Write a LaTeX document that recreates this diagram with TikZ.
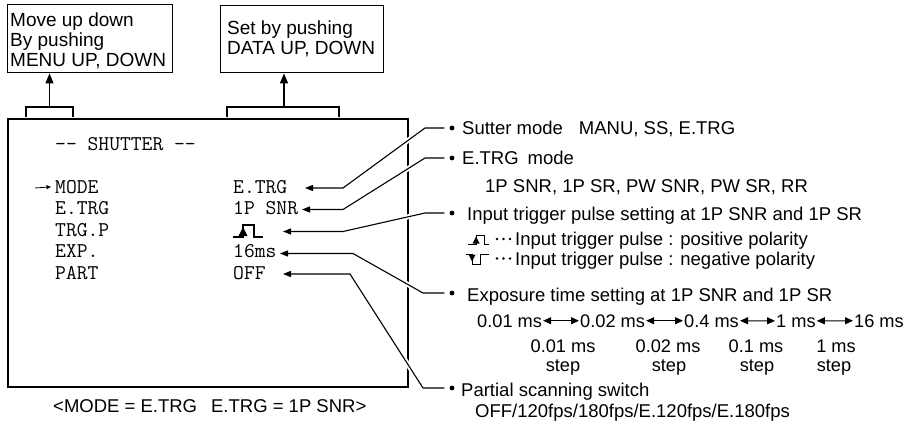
\documentclass[tikz,border=0pt]{standalone}
\usepackage{fontspec}
\setmainfont{Liberation Sans}
\usetikzlibrary{arrows.meta,calc}
\begin{document}
\begin{tikzpicture}[x=1pt,y=-1pt,
  txt/.style={font=\fontsize{18.5}{20}\selectfont, inner sep=0pt, anchor=base west},
  stxt/.style={font=\fontsize{18.2}{20}\selectfont, inner sep=0pt, anchor=base west},
  btxt/.style={font=\fontsize{19}{20}\selectfont, inner sep=0pt, anchor=base west},
  ctxt/.style={font=\fontsize{18.2}{20}\selectfont, inner sep=0pt, anchor=base},
  mono/.style={font=\ttfamily\fontsize{21}{21.5}\selectfont, inner sep=0pt, anchor=base west},
  upbox/.style={draw, line width=1.4pt, anchor=north west, inner sep=0pt},
  thin/.style={line width=1.2pt},
  uparr/.style={line width=1.2pt, -{Triangle[length=10pt,width=8pt]}},
  conn/.style={line width=1.1pt, -{Triangle[length=8pt,width=6pt]}},
  dbl/.style={line width=1pt, {Triangle[length=8pt,width=7pt]}-{Triangle[length=8pt,width=7pt]}},
  bul/.style={circle, fill, inner sep=0pt, minimum size=4.8pt},
  dot/.style={circle, fill, inner sep=0pt, minimum size=2.6pt},
  knock/.style={white, line width=5pt},
]
\useasboundingbox (0,0) rectangle (909,423);

% ---- top boxes ----
\node[upbox, minimum width=165pt, minimum height=68pt] (boxA) at (7,4) {};
\node[btxt] (a1) at (10,26) {Move up down};
\node[btxt] (a2) at (10,46) {By pushing};
\node[btxt] (a3) at (10,66) {MENU UP, DOWN};

\node[upbox, minimum width=163pt, minimum height=67pt] (boxB) at (220,5) {};
\node[btxt] (c1) at (227,34) {Set by pushing};
\node[btxt] (c2) at (227,54) {DATA UP, DOWN};

% ---- screen ----
\node[draw, line width=2pt, anchor=north west, inner sep=0pt,
      minimum width=400pt, minimum height=268pt] (scr) at (7,118) {};

% brackets
\coordinate (brA) at (49.5,107);
\coordinate (brB) at (284,107);
\draw[thin] (26,117) -- (26,107) -- (73,107) -- (73,117);
\draw[thin] (227,117) -- (227,107) -- (339,107) -- (339,117);
\draw[uparr] (brA) -- (brA |- boxA.south);
\draw[uparr] (brB) -- (brB |- boxB.south);

\node[mono] (hdr) at (55,150.7) {-{}- SHUTTER -{}-};
\node[mono] (m1) at (55,193.3) {MODE};
\node[mono] (m2) at (55,214.8) {E.TRG};
\node[mono] (m3) at (55,236.3) {TRG.P};
\node[mono] (m4) at (55,257.8) {EXP.};
\node[mono] (m5) at (55,279.3) {PART};
\coordinate (ma) at (35,188);
\draw[line width=0.8pt, -{Triangle[length=4.5pt,width=4pt]}] (ma) -- ([xshift=-4pt]m1.west);

\node[mono] (v1) at (233,193.3) {E.TRG};
\node[mono] (v2) at (233,214.8) {1P SNR};
\coordinate (v3) at (233,237);
\draw[line width=1.1pt] (v3) -- (243,237) -- (243,225) -- (254,225) -- (254,237) -- (263,237);
\fill (238.5,236) -- (247.5,236) -- (243,227) -- cycle;
\node[mono] (v4) at (233,257.8) {16ms};
\node[mono] (v5) at (233,279.3) {OFF};

% ---- bullets on the right ----
\node[bul] (b1) at (452,128) {};
\node[bul] (b2) at (452,158) {};
\node[bul] (b3) at (452,213) {};
\node[bul] (b4) at (452,293) {};
\node[bul] (b5) at (452,388) {};

% connector bends and tips
\coordinate (t1) at (305,188);   \coordinate (k1) at (343,188);   \coordinate (j1) at (425,128);
\coordinate (t2) at (302,209.5); \coordinate (k2) at (343,209.5); \coordinate (j2) at (425,158);
\coordinate (t3) at (283,231.5); \coordinate (k3) at (343,231.5); \coordinate (j3) at (425,213);
\coordinate (t4) at (280,253.5); \coordinate (k4) at (353,253.5); \coordinate (j4) at (423,293);
\coordinate (t5) at (283,274);   \coordinate (k5) at (350,274);   \coordinate (j5) at (423,388);

\foreach \i in {1,...,5}{
  \draw[knock] ($(j\i)!0.1!(k\i)$) -- ($(j\i)!0.4!(k\i)$);
  \draw[conn] ([xshift=-5pt]b\i.west) -- (j\i) -- (k\i) -- (t\i);
}

% ---- right texts ----
\node[txt] (s1) at (462,134.6) {Sutter mode\hspace{16pt}MANU, SS, E.TRG};
\node[txt] (s2) at (462,164.6) {E.TRG\hspace{9pt}mode};
\node[txt] (s2b) at (485,192) {1P SNR, 1P SR, PW SNR, PW SR, RR};
\node[txt] (s3) at (467,220) {Input trigger pulse setting at 1P SNR and 1P SR};

% positive pulse legend
\draw[line width=0.9pt] (468,244) -- (476,244) -- (476,235) -- (484,235) -- (484,244) -- (489,244);
\fill (472.5,243.5) -- (479.5,243.5) -- (476,236.5) -- cycle;
\foreach \x in {497,503.5,510} \node[dot] at (\x,239) {};
\node[txt] (p1) at (515,245) {Input trigger pulse : positive polarity};
% negative pulse legend
\draw[line width=0.9pt] (466,254) -- (472,254) -- (472,264) -- (480,264) -- (480,254) -- (489,254);
\fill (468.5,254.5) -- (475.5,254.5) -- (472,261.5) -- cycle;
\foreach \x in {497,503.5,510} \node[dot] at (\x,258.5) {};
\node[txt] (p2) at (515,265) {Input trigger pulse : negative polarity};

\node[txt] (s4) at (467,301.7) {Exposure time setting at 1P SNR and 1P SR};
\node[stxt] (q1) at (477,327) {0.01 ms};
\node[stxt] (q2) at (580,327) {0.02 ms};
\node[stxt] (q3) at (684,327) {0.4 ms};
\node[stxt] (q4) at (776,327) {1 ms};
\node[stxt] (q5) at (854,327) {16 ms};
\draw[dbl] ([xshift=1pt]q1.east) -- ([xshift=-1pt]q2.west);
\draw[dbl] ([xshift=1pt]q2.east) -- ([xshift=-1pt]q3.west);
\draw[dbl] ([xshift=1pt]q3.east) -- ([xshift=-1pt]q4.west);
\draw[dbl] ([xshift=1pt]q4.east) -- ([xshift=-1pt]q5.west);

\node[ctxt] (r1) at (563,352) {0.01 ms};
\node[ctxt] (r1s) at (563,371) {step};
\node[ctxt] (r2) at (668,352) {0.02 ms};
\node[ctxt] (r2s) at (669,371) {step};
\node[ctxt] (r3) at (756,352) {0.1 ms};
\node[ctxt] (r3s) at (757,371) {step};
\node[ctxt] (r4) at (836,352) {1 ms};
\node[ctxt] (r4s) at (834,371) {step};

\node[txt] (s5) at (461,396) {Partial scanning switch};
\node[txt] (s5b) at (475,417) {OFF/120fps/180fps/E.120fps/E.180fps};

% caption
\node[txt] (cap) at (53,412) {<MODE = E.TRG\hspace{14pt}E.TRG = 1P SNR>};
\end{tikzpicture}
\end{document}
